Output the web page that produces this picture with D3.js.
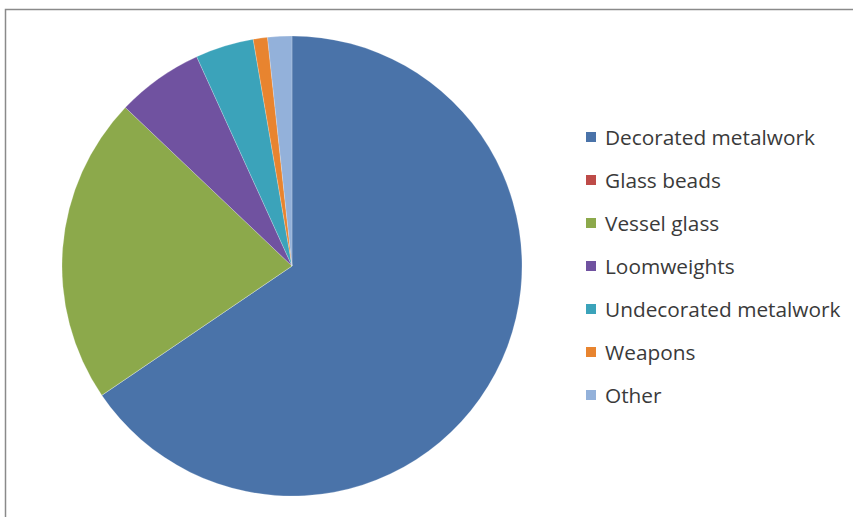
<!DOCTYPE html>
<html><head><meta charset="utf-8">
<script src="https://cdn.jsdelivr.net/npm/d3@7"></script>
<style>body{margin:0;background:#fff;} svg{display:block;}</style>
</head><body>
<script>
const categories = ["Decorated metalwork","Glass beads","Vessel glass","Loomweights","Undecorated metalwork","Weapons","Other"];
const values = [65.5, 0, 21.6, 6.1, 4.1, 1.0, 1.7];
const colors = ["#4A73A9","#BE4B48","#8CA94B","#7052A0","#3BA3BA","#E8842F","#93B1DA"];

const W = 853, H = 517;
const svg = d3.select("body").append("svg").attr("width", W).attr("height", H);

// frame
svg.append("path").attr("d", `M5.5,${H} L5.5,9.5 L${W},9.5`).attr("fill","none").attr("stroke","#8a8a8a").attr("stroke-width",1.5);

const cx = 292, cy = 266, r = 230;
const data = categories.map((c,i)=>({name:c, value:values[i], color:colors[i]}));
const pie = d3.pie().value(d=>d.value).sort(null);
const arc = d3.arc().innerRadius(0).outerRadius(r);
const g = svg.append("g").attr("transform",`translate(${cx},${cy})`);
g.selectAll("path").data(pie(data)).join("path")
  .attr("d", arc).attr("fill", d=>d.data.color)
  .attr("stroke","#ffffff").attr("stroke-opacity",0.35).attr("stroke-width",0.6);

// legend
const y = d3.scalePoint().domain(categories).range([137, 395]);
const lg = svg.append("g");
const rows = lg.selectAll("g").data(data).join("g").attr("transform", d=>`translate(0,${y(d.name)})`);
rows.append("rect").attr("x",586).attr("y",-5).attr("width",10).attr("height",10).attr("fill",d=>d.color);
const texts = rows.append("text").attr("x",605).attr("y",0).attr("dy","0.36em")
  .attr("font-family","'Open Sans', sans-serif").attr("font-size",18).attr("fill","#3a3a3a")
  .text(d=>d.name);
// fit font so "Decorated metalwork" spans ~210px as in the reference
const w0 = texts.filter((d,i)=>i===0).node().getComputedTextLength();
texts.attr("font-size", 18 * 210 / w0);
</script>
</body></html>
